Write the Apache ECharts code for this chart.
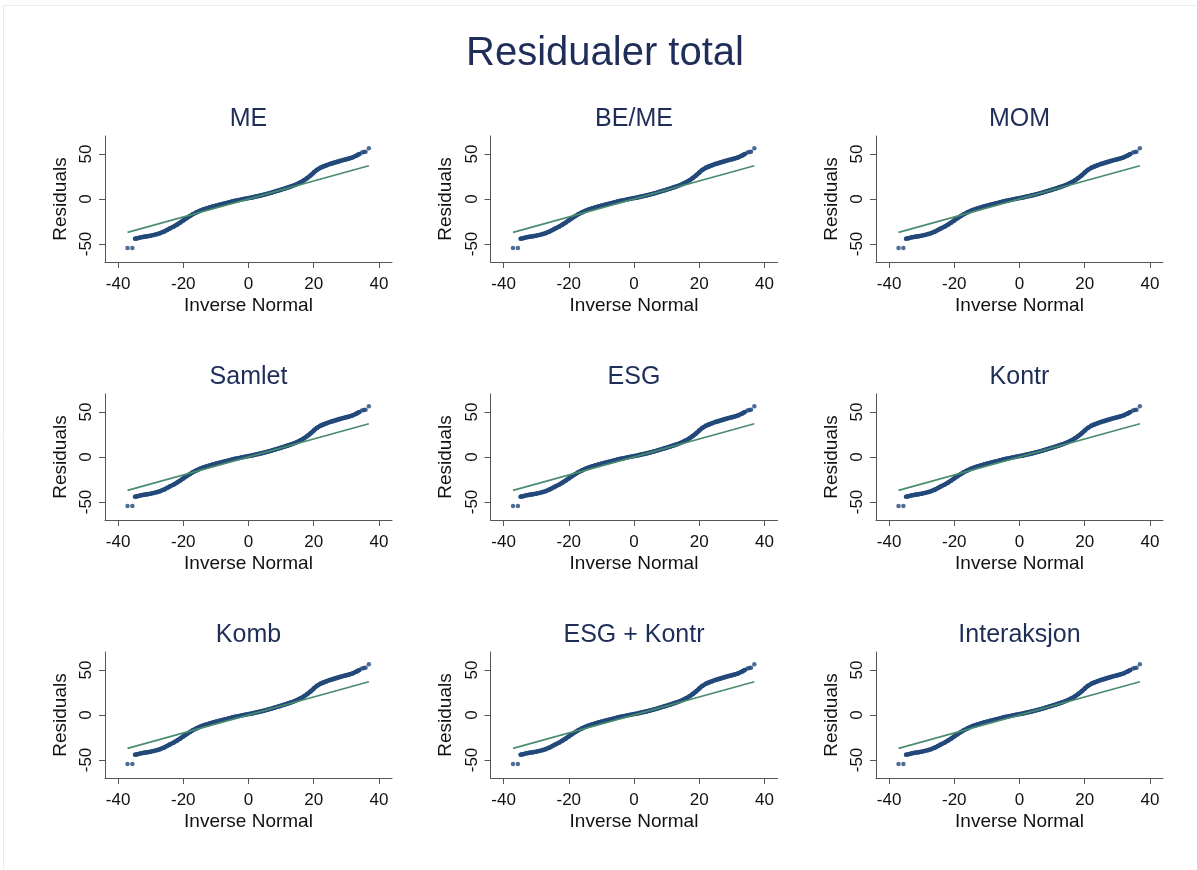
<!DOCTYPE html>
<html>
<head>
<meta charset="utf-8">
<script src="https://cdn.jsdelivr.net/npm/echarts@6/dist/echarts.min.js"></script>
<style>
  html, body { margin: 0; padding: 0; background: #ffffff; }
  #chart { width: 1197px; height: 870px; }
</style>
</head>
<body>
<div id="chart"></div>
<script>
// Titles
const mainTitle = 'Residualer total';
const panelTitles = ['ME', 'BE/ME', 'MOM', 'Samlet', 'ESG', 'Kontr', 'Komb', 'ESG + Kontr', 'Interaksjon'];
const xAxisName = 'Inverse Normal';
const yAxisName = 'Residuals';

// Tick labels
const xTicks = [-40, -20, 0, 20, 40];
const yTicks = [-50, 0, 50];

// Quantile pairs: inverse-normal quantile (x) against sorted residual (y)
const lowTailX = [-37.1, -35.6];
const lowTailY = [-54.5, -54.5];

const bodyX = [-34.8, -34, -33, -32, -31, -30, -29, -28, -27, -26, -25, -24, -23, -22, -21, -20,
  -19, -18, -17, -16, -15, -14, -13, -12, -11, -10, -9, -8, -7, -6, -5, -4, -3, -2, -1, 0,
  1, 2, 3, 4, 5, 6, 7, 8, 9, 10, 11, 12, 13, 14, 15, 16, 17, 18, 19, 20, 21, 22, 23, 24,
  25, 26, 27, 28, 29, 30, 31, 32, 33, 34];
const bodyY = [-44.2, -43.5, -42.6, -41.9, -41.3, -40.7, -39.9, -39.0, -37.8, -36.3, -34.5, -32.6, -30.7, -28.6, -26.3, -23.8,
  -21.3, -19.0, -16.8, -14.9, -13.3, -11.9, -10.6, -9.5, -8.4, -7.4, -6.5, -5.6, -4.6, -3.7, -2.8, -2.0, -1.2, -0.4, 0.3, 1.0,
  1.7, 2.5, 3.3, 4.2, 5.1, 6.0, 7.0, 8.1, 9.2, 10.3, 11.5, 12.7, 13.9, 15.3, 16.8, 18.6, 20.7, 23.2, 26.1, 29.4, 32.4, 34.6, 36.2, 37.6,
  38.9, 40.0, 41.1, 42.2, 43.2, 44.2, 45.2, 46.3, 48.0, 50.0];

const highTailX = [34.8, 35.4, 35.9, 36.9];
const highTailY = [51.6, 52.2, 52.5, 56.3];

// Styling
const navy = '#22497a';
const green = '#4a8c6e';
const titleColor = '#1f2d59';
const fontFamily = '"Liberation Sans", Arial, Helvetica, sans-serif';

// Panel layout
const gridW = 287, gridH = 126;
const left0 = 105, colStep = 385.5;
const top0 = 136, rowStep = 258;

const pairs = (xs, ys) => xs.map((x, i) => [x, ys[i]]);
const allX = lowTailX.concat(bodyX, highTailX);
const refMin = Math.min(...allX);
const refMax = Math.max(...allX);

const grids = [], xAxes = [], yAxes = [], series = [];
const titles = [{
  text: mainTitle,
  left: 605, top: 34, textAlign: 'center', padding: 0,
  textStyle: { fontFamily, fontSize: 40, fontWeight: 'normal', color: titleColor }
}];

panelTitles.forEach((name, i) => {
  const r = Math.floor(i / 3), c = i % 3;
  const gl = left0 + c * colStep;
  const gt = top0 + r * rowStep;
  grids.push({ left: gl, top: gt, width: gridW, height: gridH, containLabel: false });
  titles.push({
    text: name,
    left: gl + gridW / 2, top: gt - 29, textAlign: 'center', padding: 0,
    textStyle: { fontFamily, fontSize: 25, fontWeight: 'normal', color: titleColor }
  });
  xAxes.push({
    type: 'value', gridIndex: i, min: -44, max: 44,
    name: xAxisName, nameLocation: 'middle', nameGap: 34,
    nameTextStyle: { fontFamily, fontSize: 19, color: '#111' },
    axisLine: { show: true, onZero: false, lineStyle: { color: '#555', width: 1 } },
    axisTick: { show: true, length: 6, customValues: xTicks, lineStyle: { color: '#555' } },
    axisLabel: { customValues: xTicks, margin: 14, fontFamily, fontSize: 17, color: '#111' },
    splitLine: { show: false }
  });
  yAxes.push({
    type: 'value', gridIndex: i, min: -70, max: 70,
    name: yAxisName, nameLocation: 'middle', nameGap: 35,
    nameTextStyle: { fontFamily, fontSize: 19, color: '#111' },
    axisLine: { show: true, onZero: false, lineStyle: { color: '#555', width: 1 } },
    axisTick: { show: true, length: 6, customValues: yTicks, lineStyle: { color: '#555' } },
    axisLabel: { customValues: yTicks, rotate: 90, margin: 10, fontFamily, fontSize: 17, color: '#111' },
    splitLine: { show: false }
  });
  // Body of the quantile chain
  series.push({
    type: 'line', xAxisIndex: i, yAxisIndex: i,
    data: pairs(bodyX, bodyY),
    symbol: 'circle', symbolSize: 4.5, showSymbol: true,
    lineStyle: { color: navy, width: 4.5 },
    itemStyle: { color: navy },
    silent: true, z: 2
  });
  // Isolated tail observations
  series.push({
    type: 'scatter', xAxisIndex: i, yAxisIndex: i,
    data: pairs(lowTailX, lowTailY).concat(pairs(highTailX, highTailY)),
    symbol: 'circle', symbolSize: 4.5,
    itemStyle: { color: navy },
    silent: true, z: 2
  });
  // Normal reference line
  series.push({
    type: 'line', xAxisIndex: i, yAxisIndex: i,
    data: [[refMin, refMin], [refMax, refMax]],
    showSymbol: false,
    lineStyle: { color: green, width: 1.6 },
    silent: true, z: 3
  });
});

const chart = echarts.init(document.getElementById('chart'), null, { renderer: 'canvas' });
chart.setOption({
  animation: false,
  backgroundColor: '#ffffff',
  title: titles,
  grid: grids,
  xAxis: xAxes,
  yAxis: yAxes,
  series: series,
  graphic: [
    { type: 'line', shape: { x1: 3, y1: 5.5, x2: 1197, y2: 5.5 }, style: { stroke: '#ececec', lineWidth: 1 }, silent: true },
    { type: 'line', shape: { x1: 3.5, y1: 5, x2: 3.5, y2: 870 }, style: { stroke: '#ececec', lineWidth: 1 }, silent: true }
  ]
});
</script>
</body>
</html>
